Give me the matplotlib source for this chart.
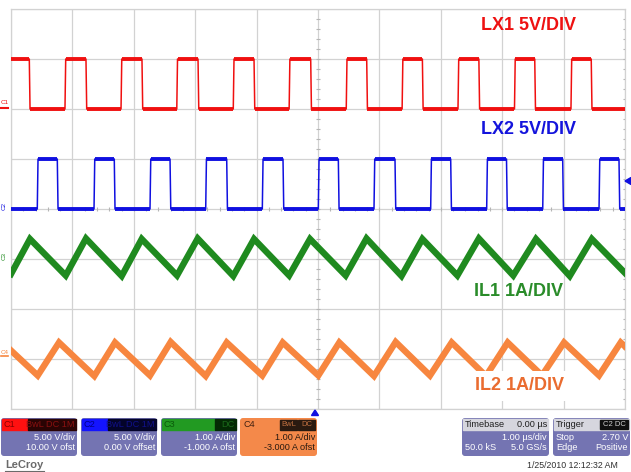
import matplotlib.pyplot as plt
from matplotlib.patches import Rectangle, FancyBboxPatch, Polygon

plt.rcParams['font.family'] = ['Liberation Sans', 'DejaVu Sans']

# ---------------------------------
# scope data, in screen divisions (x: 1 us/div, y: 0 = bottom of screen)
# ---------------------------------
lx1_rise = [0.879, 1.792, 2.70, 3.62, 4.53, 5.46, 6.37, 7.28, 8.20, 9.12]
lx1_fall = [0.298, 1.221, 2.133, 3.046, 3.958, 4.881, 5.793, 6.70, 7.62, 8.53, 9.45]
lx1_lo, lx1_hi = 6.0, 7.0

lx2_rise = [0.428, 1.352, 2.264, 3.171, 4.093, 5.005, 5.912, 6.835, 7.747, 8.660, 9.577]
lx2_fall = [0.754, 1.682, 2.590, 3.513, 4.430, 5.331, 6.254, 7.161, 8.070, 8.985, 9.902]
lx2_lo, lx2_hi = 4.0, 5.0

il1_t = [0.0, 0.309, 0.891, 1.221, 1.803, 2.129, 2.704, 3.041, 3.62, 3.958, 4.53, 4.870,
         5.45, 5.79, 6.36, 6.70, 7.27, 7.62, 8.18, 8.55, 9.10, 9.46, 10.0]
il1_v = [2.70, 3.40, 2.67, 3.41, 2.66, 3.40, 2.67, 3.41, 2.66, 3.40, 2.67, 3.40,
         2.67, 3.41, 2.66, 3.40, 2.67, 3.41, 2.67, 3.40, 2.66, 3.40, 2.72]

il2_t = [0.0, 0.435, 0.782, 1.357, 1.694, 2.264, 2.601, 3.171, 3.513, 4.093, 4.425, 5.005,
         5.347, 5.912, 6.265, 6.824, 7.177, 7.736, 8.089, 8.648, 9.007, 9.577, 9.93, 10.0]
il2_v = [1.17, 0.67, 1.33, 0.66, 1.33, 0.67, 1.34, 0.66, 1.33, 0.67, 1.33, 0.67,
         1.33, 0.66, 1.34, 0.67, 1.33, 0.66, 1.33, 0.67, 1.33, 0.67, 1.33, 1.25]

RED, BLUE, GREEN, ORANGE = '#f01010', '#1010e0', '#1f8a1f', '#f7863f'
GRID = '#d2d2d2'
PANEL = '#7474b2'


def square(rise, fall, lo, hi):
    edges = sorted([(t, hi) for t in rise] + [(t, lo) for t in fall])
    level = lo if edges[0][1] == hi else hi
    t, v = [0.0], [level]
    flats = []
    start = 0.0
    for e, new in edges:
        flats.append((start, e, level))
        t += [e, e + 0.012]
        v += [level, new]
        level = new
        start = e + 0.012
    flats.append((start, 10.0, level))
    t.append(10.0)
    v.append(level)
    return t, v, flats


fig = plt.figure(figsize=(6.31, 4.72), dpi=100)
W, H = 631, 472
ax = fig.add_axes([11 / W, (H - 409) / H, 614 / W, 400 / H])
ax.set_xlim(0, 10)
ax.set_ylim(0, 8)
ax.set_xticks(range(11))
ax.set_yticks(range(9))
ax.grid(True, color=GRID, lw=0.9)
ax.tick_params(length=0, labelbottom=False, labelleft=False)
for s in ax.spines.values():
    s.set_color(GRID)
    s.set_linewidth(0.9)

# small tick marks on the centre cross and right edge
minor_x = [i / 5 for i in range(51)]
minor_y = [i / 5 for i in range(41)]
ax.plot(minor_x, [4] * len(minor_x), ls='none', marker='|', ms=3, color='#b5b5b5', mew=0.8)
ax.plot([5] * len(minor_y), minor_y, ls='none', marker='_', ms=3, color='#b5b5b5', mew=0.8)
ax.plot([10] * len(minor_y), minor_y, ls='none', marker='_', ms=3, color='#b5b5b5', mew=0.8)

# square waves
for rise, fall, lo, hi, c in [(lx1_rise, lx1_fall, lx1_lo, lx1_hi, RED),
                              (lx2_rise, lx2_fall, lx2_lo, lx2_hi, BLUE)]:
    t, v, flats = square(rise, fall, lo, hi)
    ax.plot(t, v, color=c, lw=1.1, zorder=3)
    for a, b, lev in flats:
        ax.plot([a, b], [lev, lev], color=c, lw=2.8, solid_capstyle='butt', zorder=3)

# inductor currents
ax.plot(il1_t, il1_v, color=GREEN, lw=4.6, zorder=3, solid_joinstyle='miter')
ax.plot(il2_t, il2_v, color=ORANGE, lw=4.6, zorder=3, solid_joinstyle='miter')

lab = dict(fontsize=13, fontweight='bold', ha='center', va='center', zorder=6)
ax.text(8.43, 7.68, 'LX1 5V/DIV', color='#ee1111', **lab)
ax.text(8.43, 5.58, 'LX2 5V/DIV', color='#1414dc', **lab)
ax.text(8.26, 2.34, 'IL1 1A/DIV', color='#2a8c2a', **lab)
ax.text(8.28, 0.46, 'IL2 1A/DIV', color='#ea6c30',
        bbox=dict(facecolor='white', edgecolor='none', pad=5), **lab)

# ---------------------------------
# overlay in pixel coordinates: markers and info panels
# ---------------------------------
ov = fig.add_axes([0, 0, 1, 1])
ov.set_xlim(0, W)
ov.set_ylim(H, 0)
ov.axis('off')
ov.patch.set_alpha(0)

# channel markers on the left
ov.text(1, 102, 'C1', color=RED, fontsize=4.5, va='center')
ov.plot([1, 8], [107.5, 107.5], color=RED, lw=1.5)
ov.text(4, 206, 'C2', color=BLUE, fontsize=4.5, va='center', ha='center', rotation=90)
ov.text(4, 256, 'C3', color=GREEN, fontsize=4.5, va='center', ha='center', rotation=90)
ov.text(1, 352, 'C4', color=ORANGE, fontsize=4.5, va='center')
ov.plot([1, 8], [356, 356], color=ORANGE, lw=1.2)

# trigger markers
ov.add_patch(Polygon([[625, 181], [631, 177.5], [631, 184.5]], closed=True, color=BLUE))
ov.add_patch(Polygon([[315, 410], [311.5, 415.5], [318.5, 415.5]], closed=True, color=BLUE))


def panel(x0, x1, face=PANEL):
    ov.add_patch(FancyBboxPatch((x0, 418), x1 - x0, 38, boxstyle='round,pad=0,rounding_size=3',
                                facecolor=face, edgecolor='none'))


small = dict(fontsize=6.6, va='center')

# C1
panel(1, 77)
ov.add_patch(Rectangle((2, 419), 26, 11, color='#ff1010'))
ov.add_patch(Rectangle((28, 419), 48, 11, color='#2a0404'))
ov.text(4, 424.5, 'C1', color='#8a0000', **small)
ov.text(75, 424.5, 'BwL DC 1M', color='#8a1010', ha='right', **small)
ov.text(75, 438, '5.00 V/div', color='white', ha='right', **small)
ov.text(75, 448, '10.00 V ofst', color='white', ha='right', **small)

# C2
panel(81, 157)
ov.add_patch(Rectangle((82, 419), 26, 11, color='#1414ff'))
ov.add_patch(Rectangle((108, 419), 48, 11, color='#04042a'))
ov.text(84, 424.5, 'C2', color='#00008a', **small)
ov.text(155, 424.5, 'BwL DC 1M', color='#10108a', ha='right', **small)
ov.text(155, 438, '5.00 V/div', color='white', ha='right', **small)
ov.text(155, 448, '0.00 V offset', color='white', ha='right', **small)

# C3
panel(161, 237)
ov.add_patch(Rectangle((162, 419), 53, 11, color='#229a22'))
ov.add_patch(Rectangle((215, 419), 21, 11, color='#042a04'))
ov.text(164, 424.5, 'C3', color='#0a5a0a', **small)
ov.text(235, 424.5, 'DC', color='#1a6a1a', ha='right', **small)
ov.text(235, 438, '1.00 A/div', color='white', ha='right', **small)
ov.text(235, 448, '-1.000 A ofst', color='white', ha='right', **small)

# C4
panel(240, 317, face='#f4894a')
ov.text(243, 424.5, 'C4', color='#402010', **small)
ov.add_patch(Rectangle((280, 419.5), 17, 10, color='#2a1a10'))
ov.add_patch(Rectangle((298, 419.5), 17, 10, color='#2a1a10'))
ov.text(288.5, 424.5, 'BwL', color='#c07040', ha='center', fontsize=5.5, va='center')
ov.text(306.5, 424.5, 'DC', color='#c07040', ha='center', fontsize=5.5, va='center')
ov.text(315, 438, '1.00 A/div', color='#2a1a10', ha='right', **small)
ov.text(315, 448, '-3.000 A ofst', color='#2a1a10', ha='right', **small)

# timebase
panel(462, 549)
ov.add_patch(Rectangle((463, 419), 85, 11, color='#d6d6de'))
ov.text(465, 424.5, 'Timebase', color='#202020', **small)
ov.text(547, 424.5, '0.00 µs', color='#202020', ha='right', **small)
ov.text(547, 438, '1.00 µs/div', color='white', ha='right', **small)
ov.text(465, 448, '50.0 kS', color='white', **small)
ov.text(547, 448, '5.0 GS/s', color='white', ha='right', **small)

# trigger
panel(553, 630)
ov.add_patch(Rectangle((554, 419), 75, 11, color='#d6d6de'))
ov.add_patch(Rectangle((600, 420), 28, 9, color='#101010'))
ov.text(556, 424.5, 'Trigger', color='#202020', **small)
ov.text(614, 424.5, 'C2 DC', color='#d0d0d0', ha='center', fontsize=5.5, va='center')
ov.text(556, 438, 'Stop', color='white', **small)
ov.text(628, 438, '2.70 V', color='white', ha='right', **small)
ov.text(556, 448, 'Edge', color='white', **small)
ov.text(628, 448, 'Positive', color='white', ha='right', **small)

ov.text(618, 466, '1/25/2010 12:12:32 AM', color='#303030', ha='right', fontsize=6.3, va='center')
ov.text(5, 465, 'LeCroy', color='#6a6a6a', fontsize=8, fontweight='bold', va='center')
ov.plot([5, 44], [470.5, 470.5], color='#6a6a6a', lw=0.8)

fig.savefig('out.png', dpi=100)
